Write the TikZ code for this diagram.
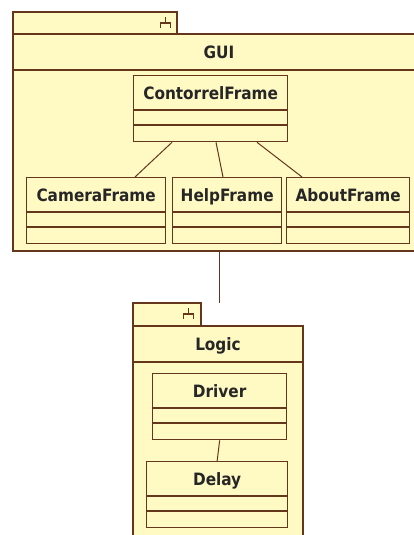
\documentclass[tikz,border=0pt]{standalone}
\usepackage{fontspec}
\setmainfont{DejaVu Sans Condensed}
\usetikzlibrary{calc}

\definecolor{umlfill}{RGB}{255,249,196}
\definecolor{umlline}{RGB}{100,55,28}

% class box: name, x, y, width, title
\newcommand\umlclass[5]{%
  \node[classbox, minimum width=#4pt, anchor=north west] (#1) at (#2,#3) {};
  \node[classname] at ($(#1.north)+(0,24)$) {#5};
  \draw[sepline] ($(#1.north west)+(0,35)$) -- ($(#1.north east)+(0,35)$);
  \draw[sepline] ($(#1.north west)+(0,50)$) -- ($(#1.north east)+(0,50)$);
}

% package fork symbol centred at (x,y)
\newcommand\pkgfork[2]{%
  \draw[sepline] (#1,#2-6) -- (#1,#2) (#1-5,#2+5) -- (#1-5,#2) -- (#1+5,#2) -- (#1+5,#2+5);
}

\begin{document}
\begin{tikzpicture}[x=1pt, y=-1pt,
  classbox/.style={draw=umlline, fill=umlfill, line width=1.3pt, inner sep=0pt,
    minimum height=66pt, rectangle},
  pkgbox/.style={draw=umlline, fill=umlfill, line width=1.3pt},
  classname/.style={font=\bfseries\fontsize{17}{19}\selectfont, text=black!85,
    inner sep=0pt, anchor=base},
  sepline/.style={draw=umlline, line width=1.3pt},
  link/.style={draw=umlline, line width=1pt}]
\useasboundingbox (0,0) rectangle (414,535);
\fill[white] (0,0) rectangle (414,535);
\clip (0,0) rectangle (414,535);

% GUI package
\draw[pkgbox] (13,12) rectangle (177,34);
\pkgfork{165.5}{23}
\draw[pkgbox] (13,34) rectangle (425,251);
\coordinate (guibottom) at (219,251);
\draw[sepline] (13,70) -- (425,70);
\node[classname] (gui) at (219,59) {GUI};

\umlclass{ctrl}{133}{75}{154}{ContorrelFrame}
\umlclass{cam}{26}{177}{139}{CameraFrame}
\umlclass{help}{172}{177}{109}{HelpFrame}
\umlclass{about}{286}{177}{123}{AboutFrame}

\draw[link] ($(ctrl.south west)+(39,0)$) -- ($(cam.north west)+(109,0)$);
\draw[link] ($(ctrl.south west)+(83,0)$) -- ($(help.north west)+(51,0)$);
\draw[link] ($(ctrl.south west)+(124,0)$) -- ($(about.north west)+(16,0)$);

% Logic package
\draw[pkgbox] (133,303) rectangle (201,326);
\pkgfork{188.5}{314}
\coordinate (logictop) at (219,303);
\draw[pkgbox] (133,326) rectangle (303,545);
\draw[sepline] (133,362) -- (303,362);
\node[classname] (logic) at (218,350) {Logic};

\umlclass{driver}{152}{373}{134}{Driver}
\umlclass{delay}{146}{461}{141}{Delay}

\draw[link] (driver.south) -- (delay.north);
\draw[link] (guibottom) -- (logictop);
\end{tikzpicture}
\end{document}
